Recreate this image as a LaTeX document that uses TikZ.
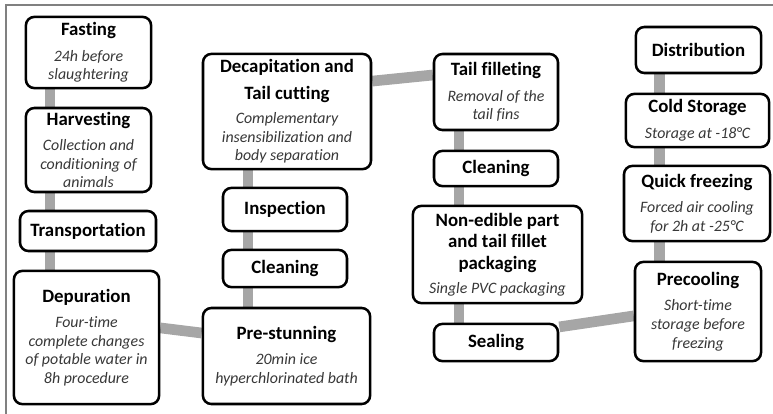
\documentclass[tikz,border=0pt]{standalone}
\usepackage{fontspec}
\setmainfont{Carlito}[Ligatures=NoCommon]
\usepackage{tikz}
\usetikzlibrary{backgrounds,calc}
\definecolor{linkgray}{RGB}{166,166,166}
\definecolor{framegray}{RGB}{128,128,128}
\def\hd#1{{\fontsize{13.4}{15}\selectfont\bfseries #1}}
\def\nt#1{{\color{black!78}\itshape #1}}
\tikzset{
  procbox/.style = {draw, line width=1.8pt, rounded corners=6pt,
    fill=white, align=center, inner sep=1pt,
    font=\fontsize{11.3}{13.2}\selectfont},
  link/.style    = {line width=7.6pt, linkgray},
}
\begin{document}
\begin{tikzpicture}
\def\stage(#1)#2<#3,#4>[#5] at (#6);{
  \node[procbox, minimum width=#3, minimum height=#4] (#1) at (#6) {#5};
}
\useasboundingbox (0,0) rectangle (19.325,-10.325);
\draw[framegray, line width=1pt] (0.15,-10.4) -- (0.15,-0.125) -- (19.4,-0.125);

% first column
\stage (fasting)   <3.13cm,1.78cm>[\hd{Fasting}\\[5pt]\nt{24h before}\\\nt{slaughtering}] at (2.2125,-1.3125);
\stage (harvest)   <3.13cm,2.1cm>[\hd{Harvesting}\\[5pt]\nt{Collection and}\\\nt{conditioning of}\\\nt{animals}] at (2.2125,-3.75);
\stage (transport) <3.4cm,1.0cm>[\hd{Transportation}] at (2.2,-5.775);
\stage (depur)     <3.63cm,3.33cm>[\hd{Depuration}\\[5pt]\nt{Four-time}\\\nt{complete changes}\\\nt{of potable water in}\\\nt{8h procedure}] at (2.1625,-8.4375);

% second column
\stage (decap)     <4.2cm,2.88cm>[\hd{Decapitation and}\\[6pt]\hd{Tail cutting}\\[4pt]\nt{Complementary}\\\nt{insensibilization and}\\\nt{body separation}] at (7.175,-2.7875);
\stage (inspect)   <3.1cm,1.08cm>[\hd{Inspection}] at (7.125,-5.2375);
\stage (clean1)    <3.1cm,0.93cm>[\hd{Cleaning}] at (7.125,-6.7125);
\stage (prestun)   <4.18cm,2.4cm>[\hd{Pre-stunning}\\[5pt]\nt{20min ice}\\\nt{hyperchlorinated bath}] at (7.1625,-8.9);

% third column
\stage (filleting) <3.1cm,1.9cm>[\hd{Tail filleting}\\[5pt]\nt{Removal of the}\\\nt{tail fins}] at (12.4,-2.3);
\stage (clean2)    <3.1cm,0.88cm>[\hd{Cleaning}] at (12.4,-4.2125);
\stage (packing)   <4.23cm,2.43cm>[\hd{Non-edible part}\\[2pt]\hd{and tail fillet}\\[2pt]\hd{packaging}\\[4pt]\nt{Single PVC packaging}] at (12.4375,-6.3625);
\stage (sealing)   <3.1cm,0.93cm>[\hd{Sealing}] at (12.4,-8.5625);

% fourth column
\stage (distrib)   <3.13cm,1.15cm>[\hd{Distribution}] at (17.4625,-1.25);
\stage (coldstore) <3.58cm,1.33cm>[\hd{Cold Storage}\\[5pt]\nt{Storage at -18°C}] at (17.4375,-3.0125);
\stage (freezing)  <3.65cm,1.88cm>[\hd{Quick freezing}\\[5pt]\nt{Forced air cooling}\\\nt{for 2h at -25°C}] at (17.425,-5.0875);
\stage (precool)   <3.15cm,2.48cm>[\hd{Precooling}\\[5pt]\nt{Short-time}\\\nt{storage before}\\\nt{freezing}] at (17.45,-7.7875);

% connectors
\coordinate (c1) at (1.25,0);
\coordinate (c2) at (6.2,0);
\coordinate (c3) at (11.475,0);
\coordinate (c4) at (16.49,0);
\begin{scope}[on background layer]
\foreach \a/\b/\c in {fasting/harvest/c1, harvest/transport/c1, transport/depur/c1,
    decap/inspect/c2, inspect/clean1/c2, clean1/prestun/c2,
    filleting/clean2/c3, clean2/packing/c3, packing/sealing/c3,
    distrib/coldstore/c4, coldstore/freezing/c4, freezing/precool/c4}
  \draw[link] (\a.south -| \c) -- (\b.north -| \c);
\draw[link] ([yshift=0.24cm]depur.east) -- ([yshift=0.575cm]prestun.west);
\draw[link] ([yshift=0.76cm]decap.east) -- ([yshift=0.425cm]filleting.west);
\draw[link] ([yshift=0.39cm]sealing.east) -- ([yshift=-0.11cm]precool.west);
\end{scope}
\end{tikzpicture}
\end{document}
